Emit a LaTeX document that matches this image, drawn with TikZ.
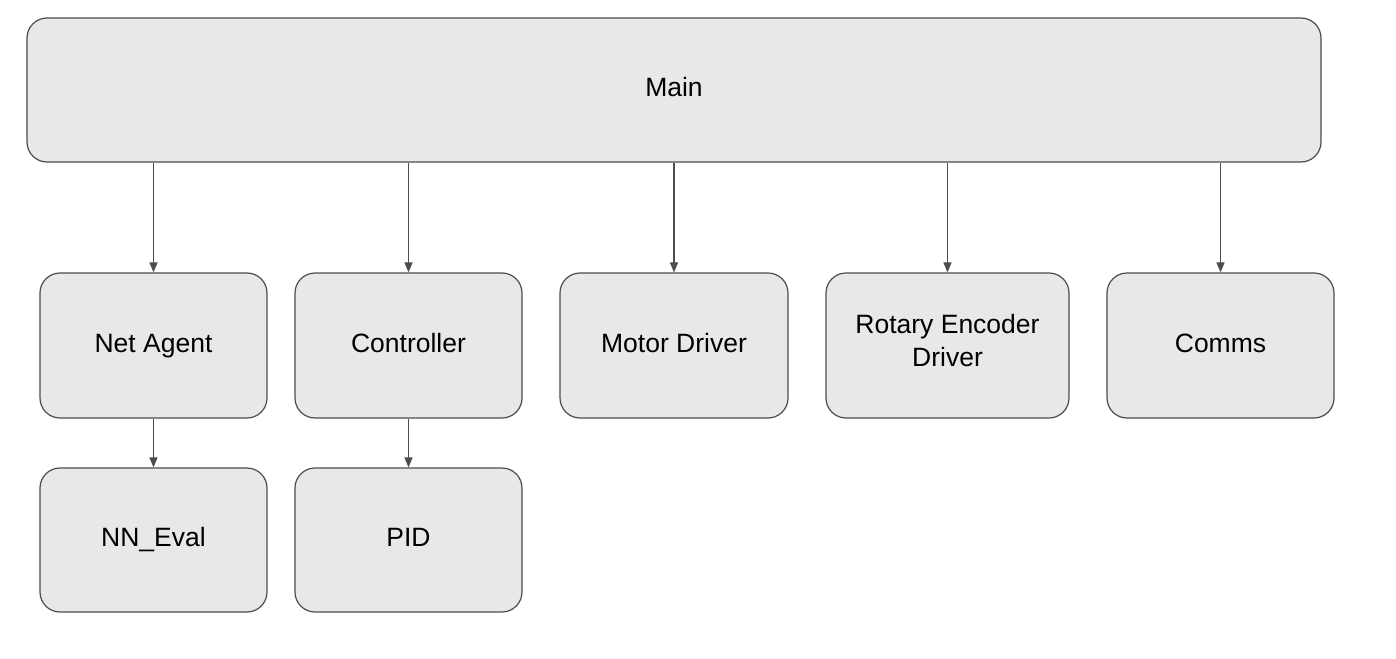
\documentclass[tikz,border=0pt]{standalone}
\usepackage{fontspec}
\setmainfont{Liberation Sans}
\usetikzlibrary{arrows.meta}
\begin{document}
\begin{tikzpicture}[x=1pt,y=-1pt,
  box/.style={draw=black!70,line width=1.2pt,fill=black!9,rounded corners=20pt,inner sep=0pt,align=center,font=\fontsize{26.5}{33}\selectfont\strut},
  arr/.style={draw=black!70,line width=1.3pt,-{Triangle[length=10pt,width=8pt]}}]
\useasboundingbox (0,0) rectangle (1396,658);
\node[box,minimum width=1294pt,minimum height=144pt] (main) at (674,90) {Main};
\node[box,minimum width=227pt,minimum height=145pt] (na) at (153.5,345.5) {Net Agent};
\node[box,minimum width=227pt,minimum height=145pt] (ct) at (408.5,345.5) {Controller};
\node[box,minimum width=228pt,minimum height=145pt] (md) at (674,345.5) {Motor Driver};
\node[box,minimum width=243pt,minimum height=145pt] (re) at (947.5,345.5) {Rotary Encoder\\\strut Driver};
\node[box,minimum width=227pt,minimum height=145pt] (cm) at (1220.5,345.5) {Comms};
\node[box,minimum width=227pt,minimum height=144pt] (nn) at (153.5,540) {NN\_Eval};
\node[box,minimum width=227pt,minimum height=144pt] (pid) at (408.5,540) {PID};
\foreach \n in {na,ct,md,re,cm} \draw[arr] (main.south -| \n.north) -- (\n.north);
\draw[arr] (na) -- (nn);
\draw[arr] (ct) -- (pid);
\end{tikzpicture}
\end{document}
